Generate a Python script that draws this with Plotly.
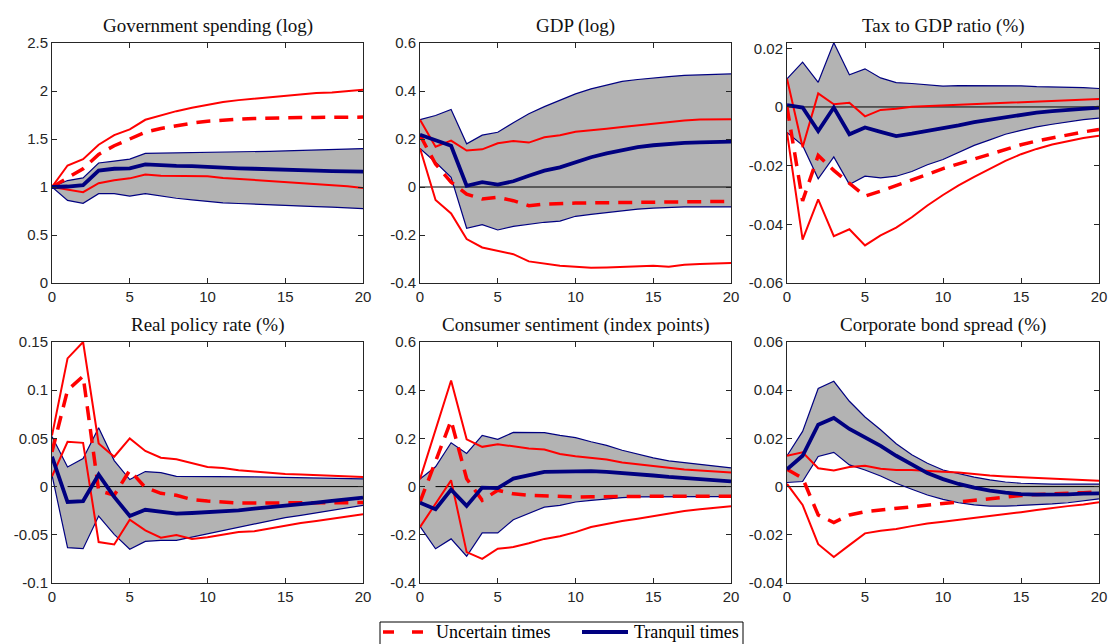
import plotly.graph_objects as go

horizon = list(range(21))

titles = ["Government spending (log)", "GDP (log)", "Tax to GDP ratio (%)",
          "Real policy rate (%)", "Consumer sentiment (index points)", "Corporate bond spread (%)"]
legend_labels = ["Uncertain times", "Tranquil times"]

# Government spending
gs_u_mean = [1.0, 1.10, 1.19, 1.34, 1.43, 1.50, 1.57, 1.61, 1.64, 1.665, 1.685, 1.70, 1.707, 1.714, 1.72, 1.722, 1.724, 1.725, 1.726, 1.727, 1.728]
gs_u_hi = [1.0, 1.224, 1.29, 1.44, 1.54, 1.60, 1.70, 1.745, 1.79, 1.825, 1.855, 1.885, 1.905, 1.92, 1.935, 1.95, 1.965, 1.98, 1.985, 2.0, 2.013]
gs_u_lo = [1.0, 0.975, 0.946, 1.04, 1.07, 1.09, 1.13, 1.116, 1.116, 1.12, 1.113, 1.095, 1.085, 1.07, 1.06, 1.05, 1.04, 1.03, 1.022, 1.008, 0.99]
gs_t_mean = [1.0, 1.005, 1.02, 1.17, 1.19, 1.195, 1.235, 1.225, 1.22, 1.217, 1.207, 1.20, 1.195, 1.19, 1.183, 1.178, 1.173, 1.17, 1.166, 1.163, 1.16]
gs_t_hi = [1.0, 1.067, 1.095, 1.25, 1.27, 1.29, 1.35, 1.352, 1.355, 1.358, 1.36, 1.362, 1.365, 1.368, 1.372, 1.376, 1.38, 1.385, 1.39, 1.395, 1.40]
gs_t_lo = [1.0, 0.86, 0.83, 0.93, 0.93, 0.905, 0.93, 0.905, 0.883, 0.866, 0.85, 0.835, 0.828, 0.82, 0.812, 0.805, 0.80, 0.795, 0.79, 0.783, 0.775]

# GDP
gdp_u_mean = [0.216, 0.096, 0.02, -0.03, -0.05, -0.043, -0.057, -0.078, -0.071, -0.068, -0.067, -0.066, -0.065, -0.064, -0.063, -0.062, -0.061, -0.06, -0.06, -0.06, -0.06]
gdp_u_hi = [0.28, 0.168, 0.193, 0.152, 0.157, 0.182, 0.192, 0.185, 0.207, 0.216, 0.23, 0.238, 0.243, 0.25, 0.257, 0.264, 0.27, 0.277, 0.281, 0.281, 0.282]
gdp_u_lo = [0.161, -0.054, -0.11, -0.217, -0.252, -0.266, -0.28, -0.31, -0.318, -0.328, -0.332, -0.336, -0.335, -0.332, -0.33, -0.328, -0.332, -0.324, -0.321, -0.32, -0.317]
gdp_t_mean = [0.218, 0.197, 0.172, 0.005, 0.02, 0.01, 0.024, 0.047, 0.068, 0.082, 0.104, 0.124, 0.14, 0.154, 0.166, 0.174, 0.18, 0.184, 0.186, 0.188, 0.189]
gdp_t_hi = [0.281, 0.298, 0.323, 0.18, 0.216, 0.228, 0.268, 0.305, 0.335, 0.363, 0.388, 0.409, 0.425, 0.44, 0.448, 0.455, 0.46, 0.465, 0.467, 0.47, 0.471]
gdp_t_lo = [0.161, 0.103, 0.04, -0.172, -0.157, -0.179, -0.164, -0.154, -0.147, -0.142, -0.122, -0.114, -0.106, -0.099, -0.092, -0.088, -0.085, -0.083, -0.083, -0.083, -0.083]

# Tax to GDP ratio
tax_u_mean = [0.0, -0.032, -0.0165, -0.0216, -0.026, -0.0304, -0.0287, -0.0269, -0.025, -0.023, -0.021, -0.0194, -0.0176, -0.016, -0.0143, -0.0129, -0.0116, -0.0105, -0.0094, -0.0085, -0.0077]
tax_u_hi = [0.0096, -0.0137, 0.0046, 0.0009, 0.0014, -0.0032, -0.001, -0.0006, 0.0001, 0.0003, 0.0006, 0.0008, 0.001, 0.0012, 0.0014, 0.0016, 0.0018, 0.002, 0.0023, 0.0025, 0.0027]
tax_u_lo = [-0.0087, -0.0452, -0.0315, -0.044, -0.0417, -0.0472, -0.0438, -0.0411, -0.0376, -0.0336, -0.0300, -0.0267, -0.0238, -0.0210, -0.0184, -0.0161, -0.0143, -0.0128, -0.0116, -0.0106, -0.0098]
tax_t_mean = [0.0006, -0.0002, -0.0082, -0.0002, -0.0093, -0.007, -0.0085, -0.0099, -0.0091, -0.0082, -0.0075, -0.0063, -0.0052, -0.0043, -0.0034, -0.0026, -0.0019, -0.0014, -0.0009, -0.0005, -0.0002]
tax_t_hi = [0.0096, 0.0153, 0.0084, 0.0219, 0.011, 0.013, 0.0099, 0.0083, 0.008, 0.0076, 0.0071, 0.0073, 0.0073, 0.0072, 0.0072, 0.0072, 0.0069, 0.0068, 0.0068, 0.0066, 0.0063]
tax_t_lo = [-0.0087, -0.0131, -0.0245, -0.017, -0.0264, -0.0236, -0.0242, -0.0236, -0.022, -0.0197, -0.0179, -0.0154, -0.0131, -0.0112, -0.0093, -0.008, -0.0068, -0.0059, -0.0051, -0.0043, -0.0038]

# Real policy rate
rpr_u_mean = [0.036, 0.1, 0.1146, -0.004, -0.009, 0.017, -0.001, -0.007, -0.009, -0.0135, -0.015, -0.016, -0.017, -0.017, -0.017, -0.017, -0.017, -0.017, -0.017, -0.0168, -0.0166]
rpr_u_hi = [0.053, 0.133, 0.15, 0.0447, 0.031, 0.05, 0.037, 0.03, 0.0284, 0.024, 0.0204, 0.0194, 0.017, 0.0156, 0.0142, 0.0132, 0.0125, 0.0118, 0.011, 0.0107, 0.01]
rpr_u_lo = [0.0107, 0.0464, 0.0454, -0.0575, -0.06, -0.0343, -0.0454, -0.053, -0.0502, -0.0544, -0.0526, -0.0495, -0.0471, -0.0464, -0.0436, -0.0402, -0.0377, -0.0357, -0.0336, -0.0315, -0.0287]
rpr_t_mean = [0.031, -0.016, -0.015, 0.0125, -0.0107, -0.0305, -0.024, -0.0256, -0.028, -0.0274, -0.0267, -0.026, -0.0246, -0.0229, -0.0215, -0.0197, -0.018, -0.0166, -0.0149, -0.0132, -0.0114]
rpr_t_hi = [0.052, 0.0204, 0.029, 0.061, 0.027, 0.0073, 0.0156, 0.0145, 0.0107, 0.0107, 0.0107, 0.0105, 0.0102, 0.01, 0.0098, 0.0095, 0.0092, 0.009, 0.0087, 0.0085, 0.008]
rpr_t_lo = [0.0118, -0.0634, -0.0644, -0.0305, -0.0495, -0.065, -0.0568, -0.0557, -0.0557, -0.0523, -0.0488, -0.0454, -0.0419, -0.0391, -0.0357, -0.0322, -0.0298, -0.0274, -0.0246, -0.0222, -0.0194]

# Consumer sentiment
cs_u_mean = [-0.064, 0.11, 0.274, 0.033, -0.057, -0.015, -0.03, -0.036, -0.039, -0.043, -0.043, -0.042, -0.041, -0.041, -0.04, -0.04, -0.04, -0.04, -0.04, -0.04, -0.04]
cs_u_hi = [0.031, 0.235, 0.44, 0.196, 0.165, 0.176, 0.168, 0.158, 0.154, 0.135, 0.126, 0.119, 0.112, 0.1, 0.092, 0.085, 0.078, 0.071, 0.067, 0.0625, 0.058]
cs_u_lo = [-0.168, -0.07, 0.026, -0.272, -0.3, -0.258, -0.251, -0.235, -0.217, -0.206, -0.189, -0.168, -0.154, -0.143, -0.133, -0.122, -0.111, -0.101, -0.094, -0.0875, -0.082]
cs_t_mean = [-0.067, -0.094, -0.0125, -0.08, -0.004, -0.006, 0.033, 0.046, 0.061, 0.0625, 0.065, 0.064, 0.061, 0.057, 0.051, 0.046, 0.04, 0.035, 0.031, 0.026, 0.022]
cs_t_hi = [0.031, 0.082, 0.182, 0.1375, 0.2125, 0.196, 0.225, 0.225, 0.224, 0.2125, 0.203, 0.186, 0.171, 0.151, 0.135, 0.119, 0.107, 0.099, 0.092, 0.085, 0.078]
cs_t_lo = [-0.165, -0.258, -0.217, -0.289, -0.192, -0.192, -0.1375, -0.1125, -0.085, -0.078, -0.064, -0.057, -0.05, -0.046, -0.043, -0.042, -0.042, -0.042, -0.042, -0.042, -0.042]

# Corporate bond spread
cb_u_mean = [0.0072, 0.0035, -0.0118, -0.0149, -0.0118, -0.0104, -0.0097, -0.009, -0.0083, -0.0076, -0.0069, -0.0062, -0.0056, -0.0049, -0.0042, -0.0037, -0.0033, -0.0031, -0.0028, -0.0025, -0.0021]
cb_u_hi = [0.0128, 0.0142, 0.0076, 0.0067, 0.0081, 0.0086, 0.0074, 0.0069, 0.0069, 0.0067, 0.0062, 0.0058, 0.0051, 0.0046, 0.0042, 0.0039, 0.0035, 0.0032, 0.0029, 0.0026, 0.0024]
cb_u_lo = [0.0011, -0.0076, -0.0239, -0.0292, -0.0243, -0.0194, -0.0183, -0.0176, -0.0164, -0.0153, -0.0146, -0.0138, -0.0133, -0.0125, -0.0115, -0.0106, -0.0097, -0.0088, -0.0081, -0.0074, -0.0065]
cb_t_mean = [0.0072, 0.0128, 0.0257, 0.0285, 0.0239, 0.0206, 0.0169, 0.0128, 0.009, 0.0056, 0.0031, 0.0011, -0.0004, -0.0017, -0.0025, -0.0031, -0.0033, -0.0033, -0.0032, -0.0029, -0.0028]
cb_t_hi = [0.0128, 0.0229, 0.0407, 0.0437, 0.0354, 0.0289, 0.0236, 0.0178, 0.0132, 0.0097, 0.0069, 0.0053, 0.0039, 0.0028, 0.0019, 0.0014, 0.0011, 0.001, 0.001, 0.001, 0.001]
cb_t_lo = [0.0017, 0.0021, 0.0125, 0.0142, 0.009, 0.0069, 0.0044, 0.0014, -0.0011, -0.0035, -0.0053, -0.0067, -0.0076, -0.0081, -0.0081, -0.0079, -0.0076, -0.0072, -0.0067, -0.0058, -0.0051]

# Axis ticks
x_ticks = [0, 5, 10, 15, 20]
x_ticklabels = ["0", "5", "10", "15", "20"]
y_ticks = [
    [0, 0.5, 1, 1.5, 2, 2.5],
    [-0.4, -0.2, 0, 0.2, 0.4, 0.6],
    [-0.06, -0.04, -0.02, 0, 0.02],
    [-0.1, -0.05, 0, 0.05, 0.1, 0.15],
    [-0.4, -0.2, 0, 0.2, 0.4, 0.6],
    [-0.04, -0.02, 0, 0.02, 0.04, 0.06],
]
y_ticklabels = [
    ["0", "0.5", "1", "1.5", "2", "2.5"],
    ["-0.4", "-0.2", "0", "0.2", "0.4", "0.6"],
    ["-0.06", "-0.04", "-0.02", "0", "0.02"],
    ["-0.1", "-0.05", "0", "0.05", "0.1", "0.15"],
    ["-0.4", "-0.2", "0", "0.2", "0.4", "0.6"],
    ["-0.04", "-0.02", "0", "0.02", "0.04", "0.06"],
]
y_ranges = [[0, 2.5], [-0.4, 0.6], [-0.06, 0.0218], [-0.1, 0.15], [-0.4, 0.6], [-0.04, 0.06]]
zero_start = [None, 0, 0, 1, 1, 0]

panels = [
    (gs_u_mean, gs_u_hi, gs_u_lo, gs_t_mean, gs_t_hi, gs_t_lo),
    (gdp_u_mean, gdp_u_hi, gdp_u_lo, gdp_t_mean, gdp_t_hi, gdp_t_lo),
    (tax_u_mean, tax_u_hi, tax_u_lo, tax_t_mean, tax_t_hi, tax_t_lo),
    (rpr_u_mean, rpr_u_hi, rpr_u_lo, rpr_t_mean, rpr_t_hi, rpr_t_lo),
    (cs_u_mean, cs_u_hi, cs_u_lo, cs_t_mean, cs_t_hi, cs_t_lo),
    (cb_u_mean, cb_u_hi, cb_u_lo, cb_t_mean, cb_t_hi, cb_t_lo),
]

W, H = 1110, 644
x_px = [(52, 363), (420, 731), (787, 1099)]
y_px = [(43, 283), (342, 583)]

RED = "#ff0000"
NAVY = "#000080"
GRAY = "#b3b3b3"
AXC = "#262626"
SERIF = "Liberation Serif, Times New Roman, serif"
SANS = "Liberation Sans, Arial, sans-serif"
DASH = "14px,9px"


def px_x(p):
    return p / W


def px_y(p):
    return 1 - p / H


fig = go.Figure()
layout = dict(template="none", width=W, height=H, margin=dict(l=0, r=0, t=0, b=0, pad=0),
              paper_bgcolor="white", plot_bgcolor="white", showlegend=False)
annotations = []
shapes = []

for i, (u_m, u_h, u_l, t_m, t_h, t_l) in enumerate(panels):
    row, col = divmod(i, 3)
    n = i + 1
    xa = "x" if n == 1 else f"x{n}"
    ya = "y" if n == 1 else f"y{n}"
    xk = "xaxis" if n == 1 else f"xaxis{n}"
    yk = "yaxis" if n == 1 else f"yaxis{n}"
    x0, x1 = x_px[col]
    y0, y1 = y_px[row]
    common = dict(showgrid=False, zeroline=False, showline=True, linecolor=AXC, linewidth=1,
                  mirror="allticks", ticks="inside", ticklen=5, tickcolor=AXC, automargin=False,
                  tickfont=dict(family=SANS, size=15, color=AXC))
    layout[xk] = dict(domain=[px_x(x0), px_x(x1)], anchor=ya, range=[0, 20],
                      tickmode="array", tickvals=x_ticks, ticktext=x_ticklabels, **common)
    layout[yk] = dict(domain=[px_y(y1), px_y(y0)], anchor=xa, range=y_ranges[i],
                      tickmode="array", tickvals=y_ticks[i], ticktext=y_ticklabels[i], **common)

    # gray confidence band for tranquil times
    fig.add_trace(go.Scatter(x=horizon + horizon[::-1], y=t_h + t_l[::-1], fill="toself",
                             fillcolor=GRAY, line=dict(width=0), mode="lines",
                             hoverinfo="skip", xaxis=xa, yaxis=ya))
    # zero line
    if zero_start[i] is not None:
        zx = [h for h in horizon if h >= zero_start[i]]
        fig.add_trace(go.Scatter(x=zx, y=[0] * len(zx), mode="lines",
                                 line=dict(color="black", width=1),
                                 hoverinfo="skip", xaxis=xa, yaxis=ya))
    # band edges
    for band in (t_h, t_l):
        fig.add_trace(go.Scatter(x=horizon, y=band, mode="lines", line=dict(color=NAVY, width=1.2),
                                 xaxis=xa, yaxis=ya))
    # uncertain bands
    for band in (u_h, u_l):
        fig.add_trace(go.Scatter(x=horizon, y=band, mode="lines", line=dict(color=RED, width=2),
                                 xaxis=xa, yaxis=ya))
    fig.add_trace(go.Scatter(x=horizon, y=u_m, mode="lines", name=legend_labels[0],
                             line=dict(color=RED, width=3.5, dash=DASH), xaxis=xa, yaxis=ya))
    fig.add_trace(go.Scatter(x=horizon, y=t_m, mode="lines", name=legend_labels[1],
                             line=dict(color=NAVY, width=3.8), xaxis=xa, yaxis=ya))

    annotations.append(dict(text=titles[i], x=px_x((x0 + x1) / 2), y=px_y(y0 - 17),
                            xref="paper", yref="paper", showarrow=False,
                            xanchor="center", yanchor="middle",
                            font=dict(family=SERIF, size=19, color="#111111")))

# Legend box (bottom, cut by the page edge as in the original)
shapes.append(dict(type="rect", xref="paper", yref="paper",
                   x0=px_x(380), x1=px_x(743), y0=px_y(622), y1=px_y(670),
                   line=dict(color="black", width=1), fillcolor="white", layer="above"))
shapes.append(dict(type="line", xref="paper", yref="paper",
                   x0=px_x(383), x1=px_x(426), y0=px_y(632), y1=px_y(632),
                   line=dict(color=RED, width=3.5, dash="11px,18px"), layer="above"))
shapes.append(dict(type="line", xref="paper", yref="paper",
                   x0=px_x(582), x1=px_x(628), y0=px_y(632), y1=px_y(632),
                   line=dict(color=NAVY, width=3.8), layer="above"))
annotations.append(dict(text=legend_labels[0], x=px_x(434), y=px_y(632), xref="paper", yref="paper",
                        showarrow=False, xanchor="left", yanchor="middle",
                        font=dict(family=SERIF, size=18, color="black")))
annotations.append(dict(text=legend_labels[1], x=px_x(632), y=px_y(632), xref="paper", yref="paper",
                        showarrow=False, xanchor="left", yanchor="middle",
                        font=dict(family=SERIF, size=18, color="black")))

layout["annotations"] = annotations
layout["shapes"] = shapes
fig.update_layout(**layout)
fig.write_html("out.html")
